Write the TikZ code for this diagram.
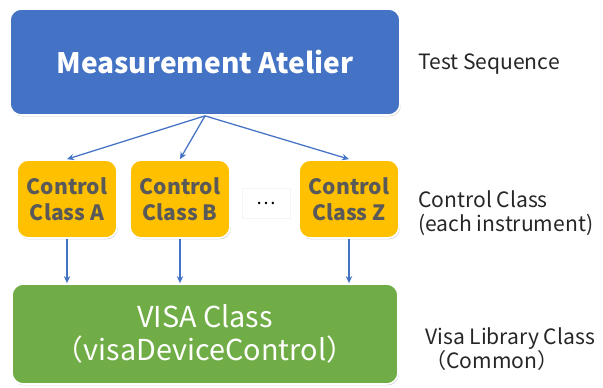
\documentclass[tikz,border=0pt]{standalone}
\usepackage{fontspec}
\setmainfont{Noto Sans CJK JP}
\usetikzlibrary{arrows.meta, positioning, shadows}
\definecolor{ateliercolor}{RGB}{68,114,196}
\definecolor{controlcolor}{RGB}{255,192,0}
\definecolor{visacolor}{RGB}{112,173,71}
\definecolor{controltext}{RGB}{89,89,89}
\definecolor{notetext}{RGB}{38,38,38}

\begin{document}
\begin{tikzpicture}[
    x=0.025cm, y=-0.025cm,
    box/.style={draw=white, line width=1.2pt, rounded corners=8pt, align=center, drop shadow={opacity=0.35, shadow xshift=0.6pt, shadow yshift=-1pt}},
    ctrlbox/.style={box, fill=controlcolor, minimum width=2.5cm, minimum height=1.95cm, text=controltext, font=\bfseries\fontsize{15}{18.5}\selectfont},
    note/.style={anchor=west, align=left, inner sep=0pt, text=notetext, font=\fontsize{15}{17}\selectfont},
    arrow/.style={-{Stealth[length=5pt, width=4.5pt]}, line width=0.9pt, draw=ateliercolor}
]
    \useasboundingbox (0,0) rectangle (603,387);

    % Test sequence
    \node[box, fill=ateliercolor, minimum width=9.75cm, minimum height=2.65cm, text=white, font=\bfseries\fontsize{20}{24}\selectfont] (atelier) at (205,62) {Measurement Atelier};

    % Control classes
    \node[ctrlbox] (ctrlA) at (67,199) {Control\\Class A};
    \node[ctrlbox] (ctrlB) at (180,199) {Control\\Class B};
    \node[ctrlbox] (ctrlZ) at (349,199) {Control\\Class Z};
    \node[draw=black!4, fill=white, minimum width=1.2cm, minimum height=0.75cm, font=\fontsize{13}{15}\selectfont] (dots) at (266,203) {\dots};

    % VISA class
    \node[box, fill=visacolor, minimum width=9.65cm, minimum height=2.5cm, text=white, font=\fontsize{20.5}{24}\selectfont] (visa) at (205,334) {VISA Class\\（visaDeviceControl）};

    % Arrows
    \draw[arrow] (atelier.south) -- (ctrlA.north);
    \draw[arrow] (atelier.south) -- (ctrlB.north);
    \draw[arrow] (atelier.south) -- (ctrlZ.north);
    \draw[arrow] (ctrlA.south) -- (ctrlA.south |- visa.north);
    \draw[arrow] (ctrlB.south) -- (ctrlB.south |- visa.north);
    \draw[arrow] (ctrlZ.south) -- (ctrlZ.south |- visa.north);

    % Layer notes
    \node[note] (seqnote) at (418,64) {Test Sequence};
    \node[note] (ctrlnote) at (418,213) {Control Class\\(each instrument)};
    \node[note] (visanote) at (425,349) {Visa Library Class\\（Common）};
\end{tikzpicture}
\end{document}
